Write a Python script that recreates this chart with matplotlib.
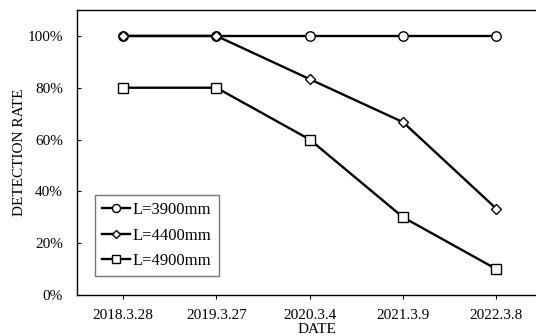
import matplotlib.pyplot as plt
from matplotlib.ticker import PercentFormatter

plt.rcParams['font.family'] = 'Liberation Serif'

# Detection rate per inspection date
dates = ["2018.3.28", "2019.3.27", "2020.3.4", "2021.3.9", "2022.3.8"]
rate_3900 = [100, 100, 100, 100, 100]
rate_4400 = [100, 100, 83.3, 66.7, 33.3]
rate_4900 = [80, 80, 60, 30, 10]

x = range(len(dates))

fig = plt.figure(figsize=(5.36, 3.36), dpi=100)
ax = fig.add_axes([77 / 536, 41 / 336, 480 / 536, 285 / 336])

ax.plot(x, rate_3900, color='black', lw=1.7, marker='o', ms=6.8,
        mfc='white', mec='black', mew=1.0, label='L=3900mm', zorder=3)
ax.plot(x, rate_4400, color='black', lw=1.7, marker='D', ms=5.0,
        mfc='white', mec='black', mew=1.0, label='L=4400mm', zorder=4)
ax.plot(x, rate_4900, color='black', lw=1.7, marker='s', ms=7.0,
        mfc='white', mec='black', mew=1.0, label='L=4900mm', zorder=3)

ax.set_xlim(-0.495, 4.65)
ax.set_ylim(0, 110)
ax.set_yticks([0, 20, 40, 60, 80, 100])
ax.yaxis.set_major_formatter(PercentFormatter(decimals=0))
ax.set_xticks(list(x))
ax.set_xticklabels(dates)

ax.tick_params(axis='y', direction='in', length=3, labelsize=11, pad=10)
ax.tick_params(axis='x', direction='out', length=3, labelsize=11, pad=7)
for s in ax.spines.values():
    s.set_linewidth(1.0)

ax.set_xlabel("DATE", fontsize=11, labelpad=1)
ax.set_ylabel("DETECTION RATE", fontsize=11, labelpad=1)

leg = ax.legend(loc='lower left', bbox_to_anchor=(0.0375, 0.066), fontsize=12,
                frameon=True, fancybox=False, edgecolor='#555555',
                handlelength=1.7, handletextpad=0.15, borderpad=0.42,
                labelspacing=0.58, markerscale=0.85, borderaxespad=0)
leg.get_frame().set_linewidth(1.0)

fig.savefig("out.png", dpi=100)
